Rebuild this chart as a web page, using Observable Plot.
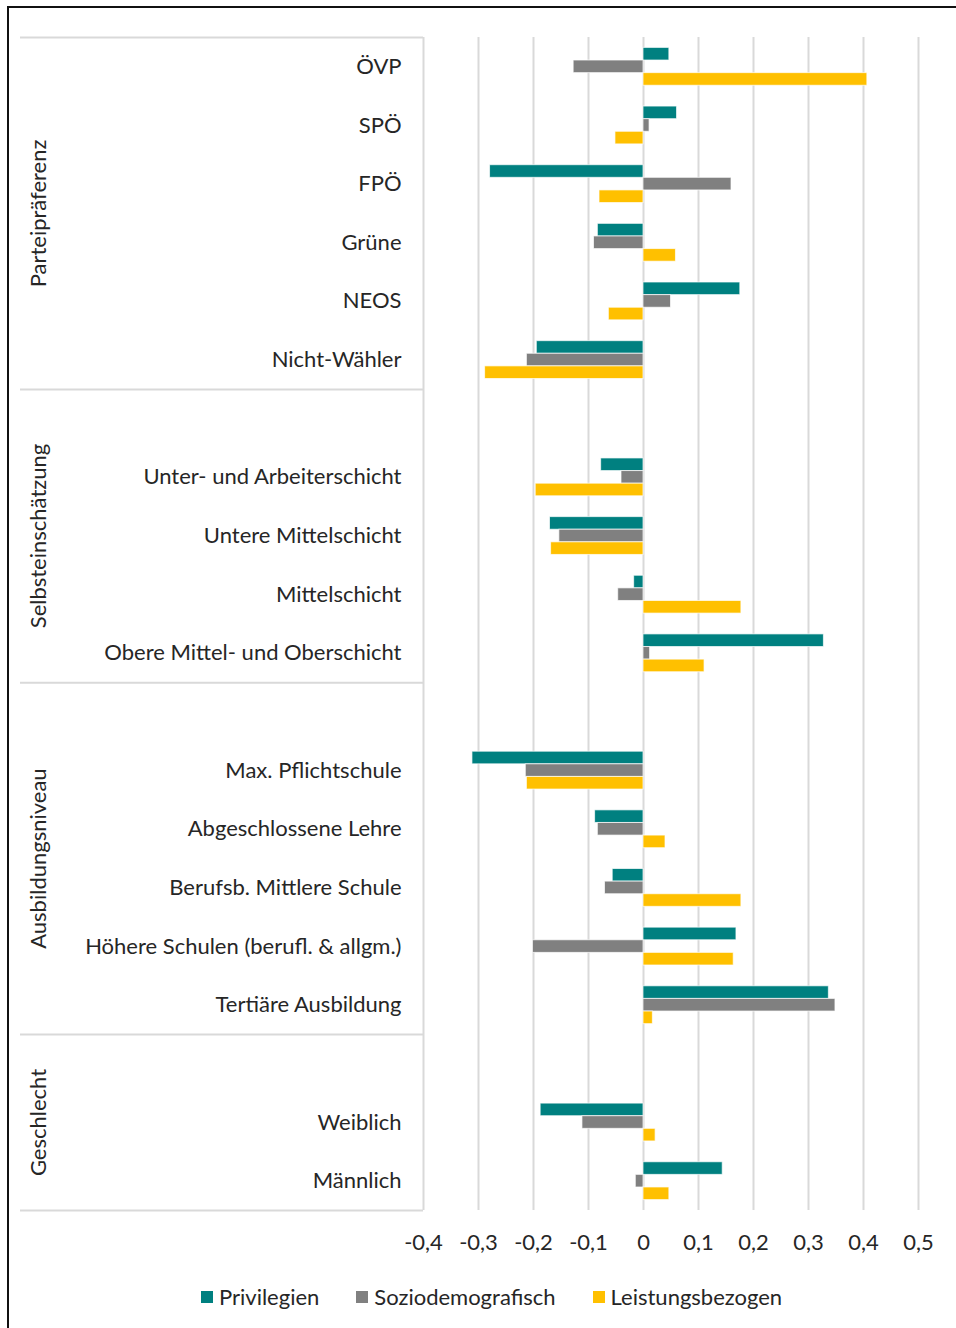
<!DOCTYPE html>
<html>
<head>
<meta charset="utf-8">
<script src="https://cdn.jsdelivr.net/npm/d3@7"></script>
<script src="https://cdn.jsdelivr.net/npm/@observablehq/plot@0.6"></script>
<style>
  html, body { margin: 0; padding: 0; background: #fff; }
  #wrap { position: relative; width: 956px; height: 1328px; overflow: hidden; font-family: Lato, "Open Sans", sans-serif; color: #262626; }
  #frame { position: absolute; left: 7px; top: 6px; right: -5px; bottom: -5px; border-left: 2px solid #111; border-top: 2px solid #111; }
  #chart { position: absolute; left: 0; top: 0; }
  #legend { position: absolute; left: 201px; top: 1283px; display: flex; align-items: center; font-size: 22px; white-space: nowrap; }
  #legend .item { display: flex; align-items: center; margin-right: 37px; }
  #legend .sw { width: 12px; height: 12px; margin-right: 6px; }
</style>
</head>
<body>
<div id="wrap">
  <div id="frame"></div>
  <div id="chart"></div>
  <div id="legend"></div>
</div>
<script>
const categories = ["ÖVP","SPÖ","FPÖ","Grüne","NEOS","Nicht-Wähler",
  "Unter- und Arbeiterschicht","Untere Mittelschicht","Mittelschicht","Obere Mittel- und Oberschicht",
  "Max. Pflichtschule","Abgeschlossene Lehre","Berufsb. Mittlere Schule","Höhere Schulen (berufl. & allgm.)","Tertiäre Ausbildung",
  "Weiblich","Männlich"];
const groups = ["Parteipräferenz","Selbsteinschätzung","Ausbildungsniveau","Geschlecht"];
const groupSizes = [6, 4, 5, 2];
const series = ["Privilegien","Soziodemografisch","Leistungsbezogen"];
const colors = ["#008080","#808080","#ffc000"];
const privilegien =       [0.047, 0.061, -0.279, -0.083, 0.176, -0.194, -0.077, -0.170, -0.017, 0.328, -0.311, -0.088, -0.056, 0.169, 0.337, -0.187, 0.144];
const soziodemografisch = [-0.127, 0.011, 0.160, -0.090, 0.050, -0.212, -0.040, -0.153, -0.046, 0.012, -0.214, -0.083, -0.070, -0.201, 0.349, -0.111, -0.014];
const leistungsbezogen =  [0.407, -0.051, -0.080, 0.059, -0.063, -0.288, -0.196, -0.168, 0.178, 0.111, -0.212, 0.040, 0.178, 0.164, 0.017, 0.022, 0.047];
const xTicks = [-0.4,-0.3,-0.2,-0.1,0,0.1,0.2,0.3,0.4,0.5];
const xTickLabels = ["-0,4","-0,3","-0,2","-0,1","0","0,1","0,2","0,3","0,4","0,5"];

// slot layout: each group after the first gets one empty leading slot
const groupIndex = [];
groupSizes.forEach((n, g) => { for (let k = 0; k < n; k++) groupIndex.push(g); });
const slotOf = categories.map((c, i) => i + groupIndex[i]);
const nSlots = categories.length + groups.length - 1;
const boundaries = [0];
{ let s = 0; groupSizes.forEach((n, g) => { s += n + (g > 0 ? 1 : 0); boundaries.push(s); }); }
const groupCenters = groups.map((g, i) => (boundaries[i] + boundaries[i + 1]) / 2);

const valuesBySeries = [privilegien, soziodemografisch, leistungsbezogen];
const barH = 0.215;
const rows = [];
categories.forEach((c, i) => {
  series.forEach((s, k) => {
    const center = slotOf[i] + 0.5 + (k - 1) * barH;
    rows.push({category: c, series: s, value: valuesBySeries[k][i], y1: center - barH / 2, y2: center + barH / 2});
  });
});
const catTicks = categories.map((c, i) => slotOf[i] + 0.5);
const catLabel = new Map(categories.map((c, i) => [slotOf[i] + 0.5, c]));
const grpLabel = groups.map((g, i) => ({g, y: groupCenters[i]}));
const grid = "#d9d9d9";

const plot = Plot.plot({
  width: 956,
  height: 1262,
  marginLeft: 423,
  marginRight: 38,
  marginTop: 37,
  marginBottom: 52,
  style: {fontFamily: "Lato, 'Open Sans', sans-serif", fontSize: "22px", color: "#262626", background: "transparent"},
  x: {domain: [-0.4, 0.5], axis: null},
  y: {domain: [0, nSlots], reverse: true, axis: null},
  color: {domain: series, range: colors},
  marks: [
    Plot.ruleX(xTicks, {stroke: grid, strokeWidth: 2}),
    Plot.axisY(boundaries, {tickSize: 403, stroke: grid, strokeWidth: 2, tickFormat: () => "", label: null}),
    Plot.rectX(rows, {x1: 0, x2: "value", y1: "y1", y2: "y2", fill: "series", stroke: "white", strokeWidth: 1, strokeOpacity: 0.7}),
    Plot.axisX(xTicks, {tickSize: 0, tickPadding: 24, tickFormat: (d) => xTickLabels[xTicks.indexOf(d)], label: null, fill: "#262626", fontSize: 22}),
    Plot.axisY(catTicks, {tickSize: 0, tickPadding: 22, tickFormat: d => catLabel.get(d), label: null, fill: "#262626", fontSize: 22}),
    Plot.text(grpLabel, {y: "y", text: "g", frameAnchor: "left", dx: -385, rotate: -90, textAnchor: "middle", fill: "#262626", fontSize: 22})
  ]
});
document.getElementById("chart").appendChild(plot);

const legend = document.getElementById("legend");
series.forEach((s, k) => {
  const it = document.createElement("div");
  it.className = "item";
  const sw = document.createElement("div");
  sw.className = "sw";
  sw.style.background = colors[k];
  const t = document.createElement("span");
  t.textContent = s;
  it.appendChild(sw); it.appendChild(t);
  legend.appendChild(it);
});
</script>
</body>
</html>
